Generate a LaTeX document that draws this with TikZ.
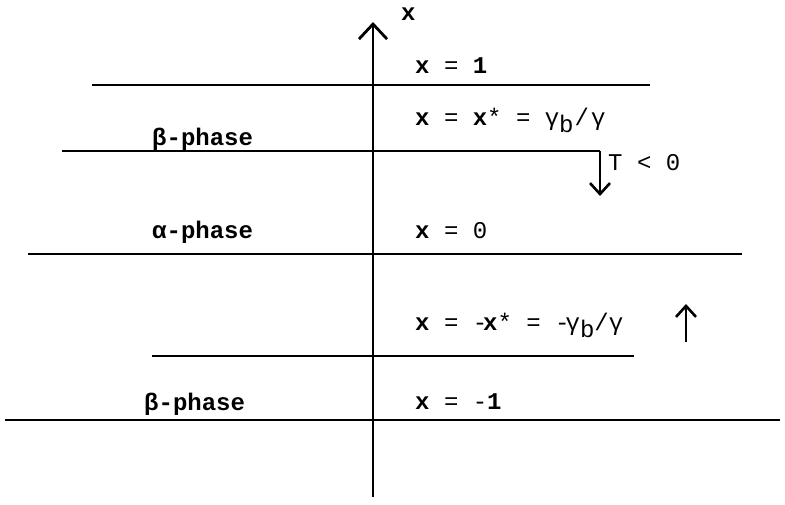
\documentclass[tikz,border=0pt]{standalone}
\usepackage{fontspec}
\setmainfont{Liberation Mono}
\usetikzlibrary{arrows.meta}
\tikzset{
  lvl/.style={line width=2.8pt},
  axisline/.style={line width=2.8pt},
  lab/.style={anchor=base west, inner sep=0pt, font=\fontsize{24}{26}\selectfont},
  bigbarb/.style={-{Straight Barb[length=15pt,width=28pt,line width=2.8pt]}},
  smallbarb/.style={-{Straight Barb[length=11pt,width=20pt,line width=2.6pt]}},
}
\newcommand{\vx}{\textbf{x}}
\newcommand{\subb}{\raisebox{-7pt}{b}}
\begin{document}
\begin{tikzpicture}[x=1pt,y=-1pt]
\useasboundingbox (0,0) rectangle (785,504);
% axis
\coordinate (ab) at (373,497);
\coordinate (at) at (373,22);
\draw[axisline,bigbarb] (ab) -- (at);
\node[lab] (xlab) at (401,20) {\vx};
% levels
\coordinate (l1a) at (92,85);  \coordinate (l1b) at (650,85);
\coordinate (l2a) at (62,151); \coordinate (l2b) at (600,151);
\coordinate (l3a) at (28,254); \coordinate (l3b) at (742,254);
\coordinate (l4a) at (152,356); \coordinate (l4b) at (634,356);
\coordinate (l5a) at (5,420);  \coordinate (l5b) at (780,420);
\draw[lvl] (l1a) -- (l1b);
\draw[lvl] (l2a) -- (l2b);
\draw[lvl] (l3a) -- (l3b);
\draw[lvl] (l4a) -- (l4b);
\draw[lvl] (l5a) -- (l5b);
% arrows
\coordinate (dtip) at (600,196);
\draw[line width=2.6pt,smallbarb] (l2b) -- (dtip);
\coordinate (ub) at (686,342);
\coordinate (ut) at (686,304);
\draw[line width=2.6pt,smallbarb] (ub) -- (ut);
% labels
\node[lab] (e1) at (415,73) {\vx{} = \textbf{1}};
\node[lab] (e2) at (415,125) {\vx{} = \vx* = γ\subb\hspace{1pt}/\hspace{2pt}γ};
\node[lab] (p1) at (152,145) {\textbf{β-phase}};
\node[lab] (tl) at (608,170) {T < 0};
\node[lab] (p2) at (152,238) {\textbf{α-phase}};
\node[lab] (e3) at (415,238) {\vx{} = 0};
\node[lab] (e4) at (415,330) {\vx{} = -\hspace{-4pt}\vx* = -\hspace{-4pt}γ\subb/γ};
\node[lab] (p3) at (144,410) {\textbf{β-phase}};
\node[lab] (e5) at (415,409) {\vx{} = -\textbf{1}};
\end{tikzpicture}
\end{document}
